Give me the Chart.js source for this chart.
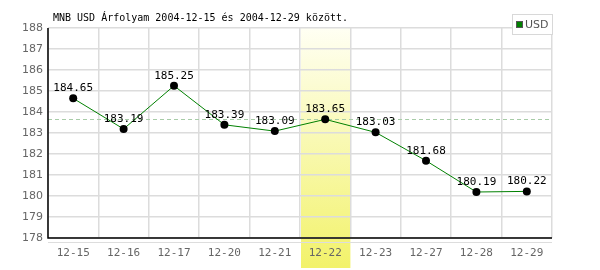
<!DOCTYPE html>
<html>
<head>
<meta charset="utf-8">
<script src="https://cdn.jsdelivr.net/npm/chart.js@4"></script>
<style>
  html, body { margin:0; padding:0; background:#fff; }
  #wrap { width:600px; height:270px; position:relative; }
</style>
</head>
<body>
<div id="wrap"><canvas id="c" width="600" height="270"></canvas></div>
<script>
/* ─── Data ───────────────────────────────────────────────────────────── */
const dates   = ["12-15","12-16","12-17","12-20","12-21","12-22","12-23","12-27","12-28","12-29"];
const usd     = [184.65, 183.19, 185.25, 183.39, 183.09, 183.65, 183.03, 181.68, 180.19, 180.22];
const yTicks  = [178,179,180,181,182,183,184,185,186,187,188];
const highlightIndex = 5;
const refValue = 183.65;
const titleText = "MNB USD Árfolyam 2004-12-15 és 2004-12-29 között.";

const MONO = "'DejaVu Sans Mono', monospace";
const SANS = "'DejaVu Sans', Verdana, sans-serif";

/* ─── Background band + dashed ref line ─────────────────────────────── */
const bandPlugin = {
  id: "band",
  beforeDraw(chart) {
    const { ctx, scales: { x, y }, chartArea } = chart;
    const half = (x.getPixelForValue(1) - x.getPixelForValue(0)) / 2;
    const cx = x.getPixelForValue(highlightIndex);
    const g = ctx.createLinearGradient(0, 27, 0, 268);
    g.addColorStop(0, "#fffff4");
    g.addColorStop(1, "#f2f26a");
    ctx.save();
    ctx.fillStyle = g;
    ctx.fillRect(cx - half + 1, 27, half * 2 - 1, 241);
    // light line under the x axis
    ctx.strokeStyle = "#dddddd";
    ctx.lineWidth = 1;
    ctx.beginPath();
    ctx.moveTo(chartArea.left, chartArea.bottom + 4.5);
    ctx.lineTo(chartArea.right, chartArea.bottom + 4.5);
    ctx.stroke();
    ctx.restore();
  },
  beforeDatasetsDraw(chart) {
    const { ctx, scales: { y }, chartArea } = chart;
    const py = Math.round(y.getPixelForValue(refValue)) + 0.5;
    ctx.save();
    ctx.strokeStyle = "#a8cca8";
    ctx.lineWidth = 1;
    ctx.setLineDash([4, 3]);
    ctx.beginPath();
    ctx.moveTo(chartArea.left, py);
    ctx.lineTo(chartArea.right, py);
    ctx.stroke();
    ctx.restore();
  },
  afterDraw(chart) {
    const { ctx, scales: { x, y }, chartArea } = chart;
    ctx.save();
    // axes
    ctx.strokeStyle = "#000";
    ctx.lineWidth = 1.5;
    ctx.beginPath();
    ctx.moveTo(chartArea.left, chartArea.top);
    ctx.lineTo(chartArea.left, chartArea.bottom);
    ctx.lineTo(chartArea.right, chartArea.bottom);
    ctx.stroke();

    // data labels
    ctx.font = "11px " + MONO;
    ctx.fillStyle = "#000";
    ctx.textAlign = "center";
    ctx.textBaseline = "alphabetic";
    usd.forEach((v, i) => {
      ctx.fillText(v.toFixed(2), x.getPixelForValue(i), y.getPixelForValue(v) - 7);
    });

    // title
    ctx.font = "10px " + MONO;
    ctx.textAlign = "left";
    ctx.fillText(titleText, 53, 21);

    // legend
    ctx.fillStyle = "#fff";
    ctx.fillRect(512, 14, 41, 20);
    ctx.strokeStyle = "#d8d8d8";
    ctx.lineWidth = 1;
    ctx.strokeRect(512.5, 14.5, 40, 20);
    ctx.fillStyle = "#008000";
    ctx.fillRect(516, 21, 7, 7);
    ctx.strokeStyle = "#555";
    ctx.strokeRect(516.5, 21.5, 6, 6);
    ctx.fillStyle = "#555";
    ctx.font = "11px " + SANS;
    ctx.textBaseline = "middle";
    ctx.fillText("USD", 525, 25);
    ctx.restore();
  }
};

/* ─── Chart ──────────────────────────────────────────────────────────── */
new Chart(document.getElementById("c").getContext("2d"), {
  type: "line",
  data: {
    labels: dates,
    datasets: [{
      label: "USD",
      data: usd,
      borderColor: "#008000",
      borderWidth: 1,
      pointRadius: 4,
      pointBackgroundColor: "#000",
      pointBorderColor: "#000",
      pointBorderWidth: 0,
      tension: 0,
      fill: false,
    }],
  },
  options: {
    responsive: false, animation: false, devicePixelRatio: 1,
    layout: { padding: { top: 28, right: 48, left: 0, bottom: 0 } },
    plugins: { legend: { display: false }, title: { display: false }, tooltip: { enabled: false } },
    scales: {
      x: {
        offset: true,
        grid: { offset: true, color: "#dcdcdc", lineWidth: 1.5, drawTicks: false },
        border: { display: false },
        ticks: { color: "#666", font: { family: MONO, size: 11 }, padding: 9, maxRotation: 0 },
        afterFit: s => { s.height = 32; },
      },
      y: {
        min: 178, max: 188,
        afterBuildTicks: s => { s.ticks = yTicks.map(v => ({ value: v })); },
        grid: { color: "#dcdcdc", lineWidth: 1.5, drawTicks: false },
        border: { display: false },
        ticks: { color: "#666", font: { family: SANS, size: 11 }, padding: 5 },
        afterFit: s => { s.width = 48; },
      },
    },
  },
  plugins: [bandPlugin],
});
</script>
</body>
</html>
